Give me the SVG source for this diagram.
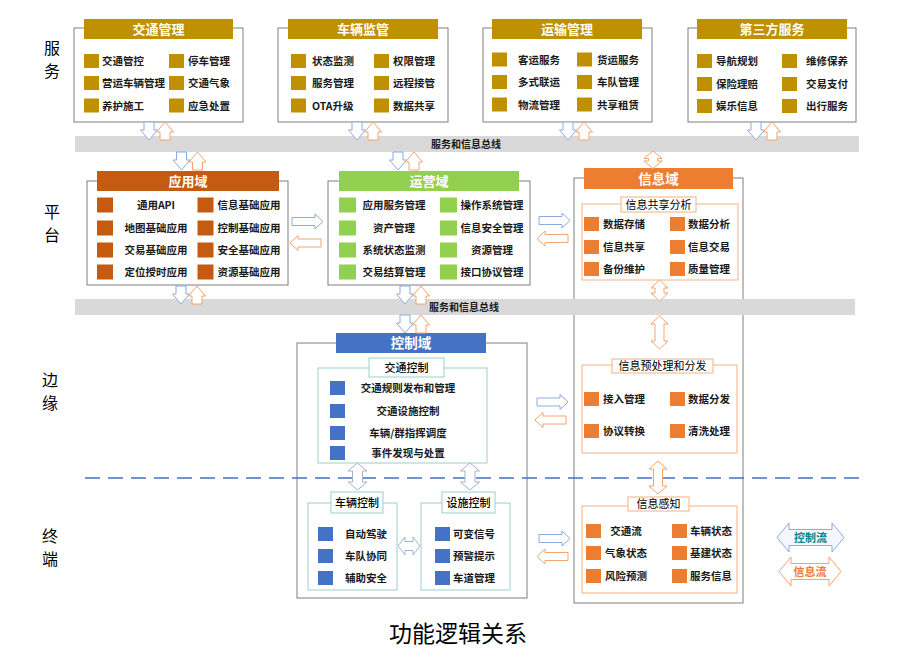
<svg xmlns="http://www.w3.org/2000/svg" width="916" height="655" viewBox="0 0 916 655">
<style>
text{font-family:"Noto Sans CJK SC","Noto Sans",sans-serif}
.box{fill:#fff;stroke:#7f7f7f;stroke-width:1}
.ttl{font-size:13px;font-weight:700;fill:#fff;text-anchor:middle}
.it{font-size:10.5px;font-weight:700;fill:#1a1a1a}
.c{text-anchor:middle}
.lane{font-size:16px;fill:#000;text-anchor:middle}
.bus{fill:#d9d9d9}
.bust{font-size:10px;font-weight:700;fill:#1a1a1a;text-anchor:middle}
.s1{fill:#BF9000}.s2{fill:#C55A11}.s3{fill:#92D050}.s4{fill:#ED7D31}.s5{fill:#4472C4}
.subO{fill:#fff;stroke:#F4B183;stroke-width:1}
.subT{fill:#fff;stroke:#9FCDCE;stroke-width:1}
.lbl{font-size:11px;fill:#000;text-anchor:middle}
.arB{fill:#fff;stroke:#8FAADC;stroke-width:1}
.arO{fill:#fff;stroke:#F4A46E;stroke-width:1}
.arG{fill:#fff;stroke:#A3B3C8;stroke-width:1}
</style>
<defs>
<path id="dn" d="M-5,0H5V8H8.5L0,18L-8.5,8H-5Z"/>
<path id="up" d="M0,0L8.5,10H5V18H-5V10H-8.5Z"/>
<path id="rt" d="M0,-4H23V-7.5L31,0L23,7.5V4H0Z"/>
<path id="lt" d="M31,-4H8V-7.5L0,0L8,7.5V4H31Z"/>
</defs>
<rect width="916" height="655" fill="#fff"/>

<g id="lanes">
<text class="lane" x="52" y="54">服</text><text class="lane" x="52" y="77">务</text>
<text class="lane" x="52" y="218">平</text><text class="lane" x="52" y="241">台</text>
<text class="lane" x="50" y="386">边</text><text class="lane" x="50" y="409">缘</text>
<text class="lane" x="50" y="542">终</text><text class="lane" x="50" y="565">端</text>
</g>

<!-- Service layer -->
<g id="traffic-mgmt">
<rect class="box" x="74" y="28" width="169" height="94"/>
<rect class="s1" x="84" y="19" width="149" height="20"/>
<text class="ttl" x="158.5" y="33.5">交通管理</text>
<rect class="s1" x="84" y="54" width="15" height="14"/><text class="it" x="102" y="65">交通管控</text>
<rect class="s1" x="169" y="54" width="15" height="14"/><text class="it" x="188" y="65">停车管理</text>
<rect class="s1" x="84" y="76" width="15" height="14"/><text class="it" x="102" y="87">营运车辆管理</text>
<rect class="s1" x="169" y="76" width="15" height="14"/><text class="it" x="188" y="87">交通气象</text>
<rect class="s1" x="84" y="98.5" width="15" height="14"/><text class="it" x="102" y="109.5">养护施工</text>
<rect class="s1" x="169" y="98.5" width="15" height="14"/><text class="it" x="188" y="109.5">应急处置</text>
</g>
<g id="vehicle-supervision">
<rect class="box" x="278" y="28" width="170" height="94"/>
<rect class="s1" x="288" y="19" width="150" height="20"/>
<text class="ttl" x="363" y="33.5">车辆监管</text>
<rect class="s1" x="291" y="54" width="15" height="14"/><text class="it" x="312" y="65">状态监测</text>
<rect class="s1" x="374" y="54" width="15" height="14"/><text class="it" x="393" y="65">权限管理</text>
<rect class="s1" x="291" y="76" width="15" height="14"/><text class="it" x="312" y="87">服务管理</text>
<rect class="s1" x="374" y="76" width="15" height="14"/><text class="it" x="393" y="87">远程接管</text>
<rect class="s1" x="291" y="98.5" width="15" height="14"/><text class="it" x="312" y="109.5">OTA升级</text>
<rect class="s1" x="374" y="98.5" width="15" height="14"/><text class="it" x="393" y="109.5">数据共享</text>
</g>
<g id="transport-mgmt">
<rect class="box" x="483" y="28" width="169" height="94"/>
<rect class="s1" x="492" y="19" width="150" height="20"/>
<text class="ttl" x="567" y="33.5">运输管理</text>
<rect class="s1" x="492" y="52.5" width="15" height="14"/><text class="it" x="518" y="63.5">客运服务</text>
<rect class="s1" x="577" y="52.5" width="15" height="14"/><text class="it" x="597" y="63.5">货运服务</text>
<rect class="s1" x="492" y="75" width="15" height="14"/><text class="it" x="518" y="86">多式联运</text>
<rect class="s1" x="577" y="75" width="15" height="14"/><text class="it" x="597" y="86">车队管理</text>
<rect class="s1" x="492" y="97.5" width="15" height="14"/><text class="it" x="518" y="108.5">物流管理</text>
<rect class="s1" x="577" y="97.5" width="15" height="14"/><text class="it" x="597" y="108.5">共享租赁</text>
</g>
<g id="third-party">
<rect class="box" x="688" y="28" width="168" height="94"/>
<rect class="s1" x="697" y="19" width="150" height="20"/>
<text class="ttl" x="772" y="33.5">第三方服务</text>
<rect class="s1" x="697" y="54" width="15" height="14"/><text class="it" x="716" y="65">导航规划</text>
<rect class="s1" x="782" y="54" width="15" height="14"/><text class="it" x="806" y="65">维修保养</text>
<rect class="s1" x="697" y="77" width="15" height="14"/><text class="it" x="716" y="88">保险理赔</text>
<rect class="s1" x="782" y="77" width="15" height="14"/><text class="it" x="806" y="88">交易支付</text>
<rect class="s1" x="697" y="99" width="15" height="14"/><text class="it" x="716" y="110">娱乐信息</text>
<rect class="s1" x="782" y="99" width="15" height="14"/><text class="it" x="806" y="110">出行服务</text>
</g>

<!-- Platform layer -->
<g id="app-domain">
<rect class="box" x="87" y="181" width="201" height="104"/>
<rect class="s2" x="97" y="171" width="182" height="20"/>
<text class="ttl" x="188" y="186">应用域</text>
<rect class="s2" x="97" y="197.5" width="16" height="15"/><text class="it c" x="156" y="209">通用API</text>
<rect class="s2" x="197.5" y="197.5" width="16" height="15"/><text class="it c" x="249" y="209">信息基础应用</text>
<rect class="s2" x="97" y="220.5" width="16" height="15"/><text class="it c" x="156" y="232">地图基础应用</text>
<rect class="s2" x="197.5" y="220.5" width="16" height="15"/><text class="it c" x="249" y="232">控制基础应用</text>
<rect class="s2" x="97" y="242.5" width="16" height="15"/><text class="it c" x="156" y="254">交易基础应用</text>
<rect class="s2" x="197.5" y="242.5" width="16" height="15"/><text class="it c" x="249" y="254">安全基础应用</text>
<rect class="s2" x="97" y="264.5" width="16" height="15"/><text class="it c" x="156" y="276">定位授时应用</text>
<rect class="s2" x="197.5" y="264.5" width="16" height="15"/><text class="it c" x="249" y="276">资源基础应用</text>
</g>
<g id="ops-domain">
<rect class="box" x="328" y="181" width="202" height="104"/>
<rect class="s3" x="339" y="171" width="180" height="20"/>
<text class="ttl" x="429" y="186">运营域</text>
<rect class="s3" x="339" y="197.5" width="17" height="15"/><text class="it c" x="394" y="209">应用服务管理</text>
<rect class="s3" x="440" y="197.5" width="17" height="15"/><text class="it c" x="492" y="209">操作系统管理</text>
<rect class="s3" x="339" y="220.5" width="17" height="15"/><text class="it c" x="394" y="232">资产管理</text>
<rect class="s3" x="440" y="220.5" width="17" height="15"/><text class="it c" x="492" y="232">信息安全管理</text>
<rect class="s3" x="339" y="242.5" width="17" height="15"/><text class="it c" x="394" y="254">系统状态监测</text>
<rect class="s3" x="440" y="242.5" width="17" height="15"/><text class="it c" x="492" y="254">资源管理</text>
<rect class="s3" x="339" y="264.5" width="17" height="15"/><text class="it c" x="394" y="276">交易结算管理</text>
<rect class="s3" x="440" y="264.5" width="17" height="15"/><text class="it c" x="492" y="276">接口协议管理</text>
</g>
<g id="info-domain">
<rect class="box" x="574" y="178" width="169" height="425"/>
<rect class="s4" x="584" y="168" width="149" height="21"/>
<text class="ttl" x="658.5" y="183.5" style="font-size:13.5px">信息域</text>
</g>
<g id="info-sharing">
<rect class="subO" x="582" y="204" width="156" height="76"/>
<rect class="subO" x="621" y="197" width="75" height="15"/>
<text class="lbl" x="658.5" y="208.5">信息共享分析</text>
<rect class="s4" x="584" y="217" width="15" height="14"/><text class="it" x="603" y="228">数据存储</text>
<rect class="s4" x="670" y="217" width="15" height="14"/><text class="it" x="688" y="228">数据分析</text>
<rect class="s4" x="584" y="240" width="15" height="14"/><text class="it" x="603" y="251">信息共享</text>
<rect class="s4" x="670" y="240" width="15" height="14"/><text class="it" x="688" y="251">信息交易</text>
<rect class="s4" x="584" y="262" width="15" height="14"/><text class="it" x="603" y="273">备份维护</text>
<rect class="s4" x="670" y="262" width="15" height="14"/><text class="it" x="688" y="273">质量管理</text>
</g>

<!-- Edge layer -->
<g id="control-domain">
<rect class="box" x="297" y="343" width="230" height="255"/>
<rect class="s5" x="336" y="333" width="150" height="20"/>
<text class="ttl" x="411" y="348" style="font-size:13.5px">控制域</text>
</g>
<g id="traffic-control">
<rect class="subT" x="318" y="368" width="169" height="95"/>
<rect class="subT" x="369" y="358" width="75" height="19"/>
<text class="lbl" x="406.5" y="371.5" style="font-weight:500">交通控制</text>
<rect class="s5" x="330" y="381" width="15" height="14"/><text class="it c" x="408" y="392">交通规则发布和管理</text>
<rect class="s5" x="330" y="404" width="15" height="14"/><text class="it c" x="408" y="415">交通设施控制</text>
<rect class="s5" x="330" y="426" width="15" height="14"/><text class="it c" x="408" y="437">车辆/群指挥调度</text>
<rect class="s5" x="330" y="446" width="15" height="14"/><text class="it c" x="408" y="457">事件发现与处置</text>
</g>
<g id="info-preprocess">
<rect class="subO" x="582" y="365" width="155" height="88"/>
<rect class="subO" x="612" y="359" width="101" height="14"/>
<text class="lbl" x="662.5" y="370">信息预处理和分发</text>
<rect class="s4" x="584" y="392" width="15" height="14"/><text class="it" x="603" y="403">接入管理</text>
<rect class="s4" x="670" y="392" width="15" height="14"/><text class="it" x="688" y="403">数据分发</text>
<rect class="s4" x="584" y="424" width="15" height="14"/><text class="it" x="603" y="435">协议转换</text>
<rect class="s4" x="670" y="424" width="15" height="14"/><text class="it" x="688" y="435">清洗处理</text>
</g>

<!-- Terminal layer -->
<g id="vehicle-control">
<rect class="subT" x="308" y="503" width="89" height="87"/>
<rect class="subT" x="331" y="492" width="52" height="21"/>
<text class="lbl" x="357" y="506.5" style="font-weight:500">车辆控制</text>
<rect class="s5" x="318" y="527" width="15" height="14"/><text class="it c" x="366" y="538">自动驾驶</text>
<rect class="s5" x="318" y="549" width="15" height="14"/><text class="it c" x="366" y="560">车队协同</text>
<rect class="s5" x="318" y="571" width="15" height="14"/><text class="it c" x="366" y="582">辅助安全</text>
</g>
<g id="facility-control">
<rect class="subT" x="421" y="503" width="89" height="87"/>
<rect class="subT" x="442" y="492" width="53" height="21"/>
<text class="lbl" x="468.5" y="506.5" style="font-weight:500">设施控制</text>
<rect class="s5" x="435" y="527" width="15" height="14"/><text class="it c" x="474" y="538">可变信号</text>
<rect class="s5" x="435" y="549" width="15" height="14"/><text class="it c" x="474" y="560">预警提示</text>
<rect class="s5" x="435" y="571" width="15" height="14"/><text class="it c" x="474" y="582">车道管理</text>
</g>
<g id="info-perception">
<rect class="subO" x="582" y="506" width="155" height="87"/>
<rect class="subO" x="628" y="497" width="61" height="14"/>
<text class="lbl" x="658.5" y="508">信息感知</text>
<rect class="s4" x="586" y="524" width="15" height="14"/><text class="it c" x="626" y="535">交通流</text>
<rect class="s4" x="672" y="524" width="15" height="14"/><text class="it c" x="711" y="535">车辆状态</text>
<rect class="s4" x="586" y="546" width="15" height="14"/><text class="it c" x="626" y="557">气象状态</text>
<rect class="s4" x="672" y="546" width="15" height="14"/><text class="it c" x="711" y="557">基建状态</text>
<rect class="s4" x="586" y="569" width="15" height="14"/><text class="it c" x="626" y="580">风险预测</text>
<rect class="s4" x="672" y="569" width="15" height="14"/><text class="it c" x="711" y="580">服务信息</text>
</g>

<!-- Buses -->
<g id="bus-1">
<rect class="bus" x="75" y="136" width="784" height="16"/>
<text class="bust" x="466" y="148">服务和信息总线</text>
</g>
<g id="bus-2">
<rect class="bus" x="75" y="299" width="780" height="16"/>
<text class="bust" x="464" y="311">服务和信息总线</text>
</g>

<line x1="85" y1="478" x2="862" y2="478" stroke="#4472C4" stroke-width="1.4" stroke-dasharray="15 8"/>

<g id="connectors">
<!-- services to bus 1 -->
<use href="#dn" x="149" y="122" class="arB"/><use href="#up" x="165" y="122" class="arO"/>
<use href="#dn" x="357" y="122" class="arB"/><use href="#up" x="373" y="122" class="arO"/>
<use href="#dn" x="568" y="122" class="arB"/><use href="#up" x="584" y="122" class="arO"/>
<use href="#dn" x="756" y="122" class="arB"/><use href="#up" x="772" y="122" class="arO"/>
<!-- bus 1 to platform -->
<use href="#dn" x="181.5" y="152" class="arB"/><use href="#up" x="197.5" y="152" class="arO"/>
<use href="#dn" x="398" y="152" class="arB"/><use href="#up" x="414" y="152" class="arO"/>
<path class="arO" d="M653,151L662,158.5H657.5V161H662L653,168.5L644,161H648.5V158.5H644Z"/>
<!-- platform to bus 2 -->
<use href="#dn" x="181" y="286" class="arB"/><use href="#up" x="197" y="286" class="arO"/>
<use href="#dn" x="405" y="286" class="arB"/><use href="#up" x="421" y="286" class="arO"/>
<!-- bus 2 to control -->
<use href="#dn" x="405" y="315" class="arB"/><use href="#up" x="421" y="315" class="arO"/>
<!-- horizontal pairs -->
<use href="#rt" x="292" y="221.5" class="arB"/><use href="#lt" x="290" y="243" class="arO"/>
<use href="#rt" x="539" y="220.5" class="arB"/><use href="#lt" x="537" y="238.5" class="arO"/>
<use href="#rt" x="537" y="402" class="arB"/><use href="#lt" x="535" y="420" class="arO"/>
<use href="#rt" x="539" y="538.5" class="arB"/><use href="#lt" x="537" y="556.5" class="arO"/>
<!-- info domain vertical links -->
<path class="arO" d="M659.5,280L668,288H664V293H668L659.5,301L651,293H655V288H651Z"/>
<path class="arO" d="M659.5,316L668,324H664V341H668L659.5,349L651,341H655V324H651Z"/>
<path class="arO" d="M658,461L667,469H662.5V486H667L658,494L649,486H653.5V469H649Z"/>
<!-- control domain links -->
<path class="arG" d="M357.5,463L367,471H362.5V482H367L357.5,490L348,482H352.5V471H348Z"/>
<path class="arG" d="M470,463L479.5,471H475V482H479.5L470,490L460.5,482H465V471H460.5Z"/>
<path class="arG" d="M398,546L405,537V541.5H413V537L420,546L413,555V550.5H405V555Z"/>
</g>

<g id="legend">
<path fill="#F4F7FC" stroke="#8FAADC" d="M777,537.5L789,523V529.5H832V523L844,537.5L832,552V545.5H789V552Z"/>
<text x="810.5" y="541.5" text-anchor="middle" font-size="11" font-weight="700" fill="#00868B">控制流</text>
<path fill="#fff" stroke="#F4A46E" d="M779,571.5L791,557V563.5H829V557L841,571.5L829,586V579.5H791V586Z"/>
<text x="810" y="575.5" text-anchor="middle" font-size="11" font-weight="700" fill="#ED7D31">信息流</text>
</g>

<text x="458" y="642" text-anchor="middle" font-size="23" fill="#000">功能逻辑关系</text>
</svg>
